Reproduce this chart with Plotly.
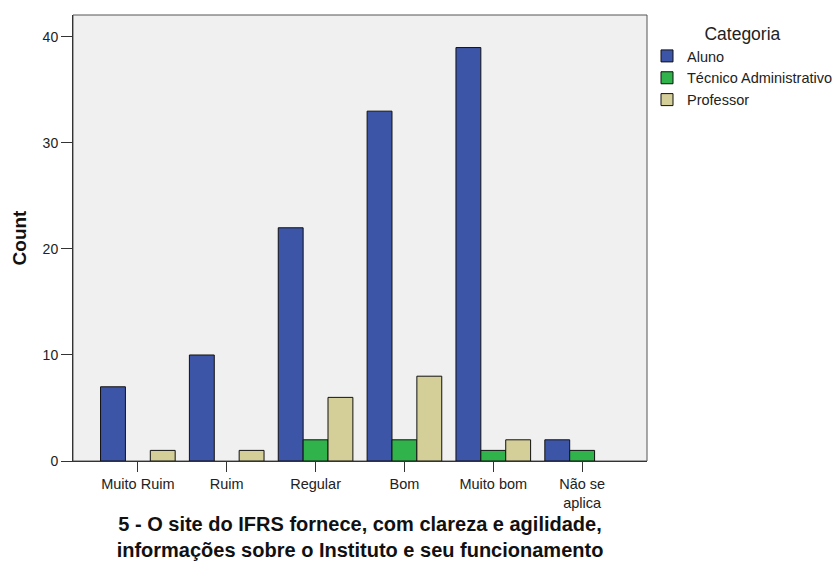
import plotly.graph_objects as go

categories = ["Muito Ruim", "Ruim", "Regular", "Bom", "Muito bom", "Não se<br>aplica"]
aluno = [7, 10, 22, 33, 39, 2]
tecnico = [0, 0, 2, 2, 1, 1]
professor = [1, 1, 6, 8, 2, 0]
series_names = ["Aluno", "Técnico Administrativo", "Professor"]
colors = ["#3d55a7", "#2fb34a", "#d4cf98"]

FONT = "Liberation Sans, Arial, sans-serif"

fig = go.Figure()
for name, vals, col in zip(series_names, [aluno, tecnico, professor], colors):
    # zero counts draw no bar (as in the original chart)
    shown = [v if v != 0 else None for v in vals]
    fig.add_trace(go.Bar(
        name=name, x=categories, y=shown,
        marker=dict(color=col, line=dict(color="#111111", width=1)),
    ))

fig.update_layout(
    width=839, height=565,
    barmode="group", bargap=0.16, bargroupgap=0,
    plot_bgcolor="#f0f0f0", paper_bgcolor="white",
    margin=dict(l=73, r=192, t=15, b=104, autoexpand=False),
    font=dict(family=FONT, size=14, color="#222222"),
    legend=dict(
        x=1.0, y=0.995, xanchor="left", yanchor="top",
        title=dict(text="Categoria", side="top center", font=dict(size=17.5)),
        font=dict(size=14.5), bgcolor="rgba(0,0,0,0)",
        itemclick=False,
    ),
    xaxis=dict(
        range=[-0.73, 5.73], showgrid=False, zeroline=False, automargin=False,
        showline=True, linecolor="#333333", linewidth=1,
        ticks="outside", ticklen=10, tickcolor="#333333",
        tickfont=dict(size=14.5),
        title=dict(text="<b>5 - O site do IFRS fornece, com clareza e agilidade,<br>informações sobre o Instituto e seu funcionamento</b>",
                   font=dict(size=20, color="#111111"), standoff=6),
    ),
    yaxis=dict(
        range=[0, 42.07], showgrid=False, zeroline=False, automargin=False,
        showline=True, linecolor="#333333", linewidth=1,
        ticks="outside", ticklen=11, tickcolor="#333333",
        tickvals=[0, 10, 20, 30, 40], tickfont=dict(size=14),
        title=dict(text="<b>Count</b>", font=dict(size=19, color="#111111"), standoff=10),
    ),
    shapes=[dict(type="rect", xref="paper", yref="paper", x0=0, x1=1, y0=0, y1=1,
                 line=dict(color="#555555", width=1), layer="below")],
)

fig.write_html("out.html", config={"displayModeBar": False},
               post_script="document.body.style.margin='0';")
